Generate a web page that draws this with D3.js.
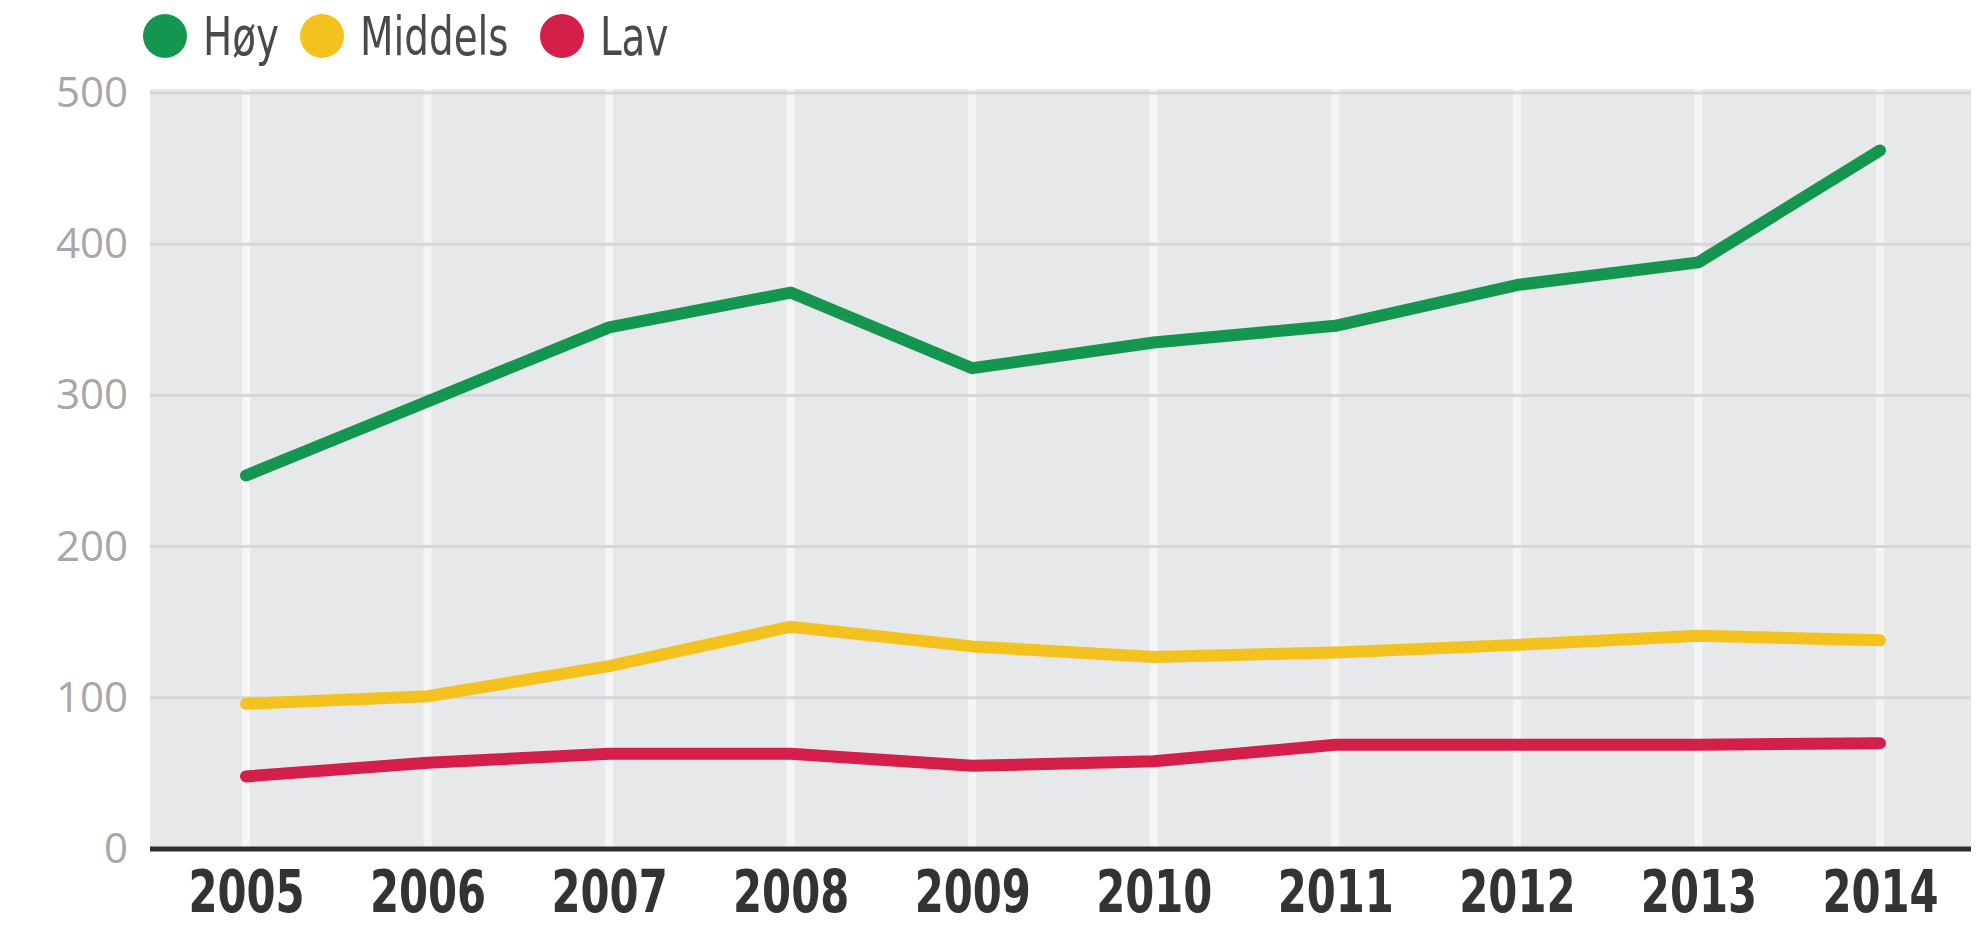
<!DOCTYPE html>
<html>
<head>
<meta charset="utf-8">
<script src="https://cdn.jsdelivr.net/npm/d3@7"></script>
<style>
  body { margin: 0; background: #fff; }
  svg { display: block; }
</style>
</head>
<body>
<div id="chart"></div>
<script>
// data
const years = ["2005", "2006", "2007", "2008", "2009", "2010", "2011", "2012", "2013", "2014"];
const hoy = [247, 296, 345, 368, 318, 335, 346, 373, 388, 462];
const middels = [96, 101, 121, 147, 134, 127, 130, 135, 141, 138];
const lav = [48, 57, 63, 63, 55, 58, 69, 69, 69, 70];
const yTicks = [0, 100, 200, 300, 400, 500];
const seriesNames = ["Høy", "Middels", "Lav"];
const seriesColors = ["#159650", "#f3c21e", "#d41f4b"];

const width = 1988;
const height = 932;
const plot = {left: 150, right: 1971, top: 89, bottom: 849};
const squeeze = 0.8; // condensed look for the labels

const svg = d3.select("#chart")
              .append("svg")
              .attr("width", width)
              .attr("height", height);

const x = d3.scalePoint()
            .domain(years)
            .range([246, 1880]);

const y = d3.scaleLinear()
            .domain([0, 500])
            .range([plot.bottom, 93]);

// plot background
svg.append("rect")
   .attr("x", plot.left)
   .attr("y", plot.top)
   .attr("width", plot.right - plot.left)
   .attr("height", plot.bottom - plot.top)
   .attr("fill", "#e7e8e9");

// white vertical lines at each year
svg.append("g")
   .selectAll("line")
   .data(years)
   .enter()
   .append("line")
   .attr("x1", (d) => x(d))
   .attr("x2", (d) => x(d))
   .attr("y1", plot.top)
   .attr("y2", plot.bottom)
   .attr("stroke", "#f5f5f6")
   .attr("stroke-width", 8);

// horizontal grid lines
svg.append("g")
   .selectAll("line")
   .data(yTicks.slice(1))
   .enter()
   .append("line")
   .attr("x1", plot.left)
   .attr("x2", plot.right)
   .attr("y1", (d) => y(d))
   .attr("y2", (d) => y(d))
   .attr("stroke", "#d6d7d9")
   .attr("stroke-width", 3);

// y axis labels
const yAxis = svg.append("g")
   .attr("transform", "translate(" + (plot.left - 22) + ",0)")
   .call(d3.axisLeft(y).tickValues(yTicks).tickSize(0).tickPadding(0));
yAxis.select(".domain").remove();
yAxis.selectAll("text")
     .attr("font-family", "'Open Sans', sans-serif")
     .attr("font-size", "42px")
     .attr("fill", "#a7a7a7");

// x axis
const xAxis = svg.append("g")
   .attr("transform", "translate(0," + plot.bottom + ")")
   .call(d3.axisBottom(x).tickSize(0).tickPadding(22));
xAxis.select(".domain").remove();
xAxis.selectAll("text")
     .attr("font-family", "'DejaVu Sans Condensed', 'Liberation Sans', sans-serif")
     .attr("font-weight", "bold")
     .attr("font-size", "58px")
     .attr("fill", "#333")
     .attr("transform", "scale(" + squeeze + ",1)");

svg.append("line")
   .attr("x1", plot.left)
   .attr("x2", plot.right)
   .attr("y1", plot.bottom)
   .attr("y2", plot.bottom)
   .attr("stroke", "#2e2e2e")
   .attr("stroke-width", 5);

// lines
const line = d3.line()
               .x((d, i) => x(years[i]))
               .y((d) => y(d));

[hoy, middels, lav].forEach((values, i) => {
  svg.append("path")
     .datum(values)
     .attr("d", line)
     .attr("fill", "none")
     .attr("stroke", seriesColors[i])
     .attr("stroke-width", 12)
     .attr("stroke-linejoin", "round")
     .attr("stroke-linecap", "round");
});

// legend
const legendX = [165, 322, 562];
const legend = svg.append("g")
                  .selectAll("g")
                  .data(seriesNames)
                  .enter()
                  .append("g")
                  .attr("transform", (d, i) => "translate(" + legendX[i] + ",36)");

legend.append("circle")
      .attr("r", 22)
      .attr("fill", (d, i) => seriesColors[i]);

legend.append("text")
      .attr("x", 38 / squeeze)
      .attr("y", 19)
      .attr("transform", "scale(" + squeeze + ",1)")
      .attr("font-family", "'DejaVu Sans Condensed', 'Liberation Sans', sans-serif")
      .attr("font-size", "54px")
      .attr("fill", "#4a4a4a")
      .text((d) => d);
</script>
</body>
</html>
